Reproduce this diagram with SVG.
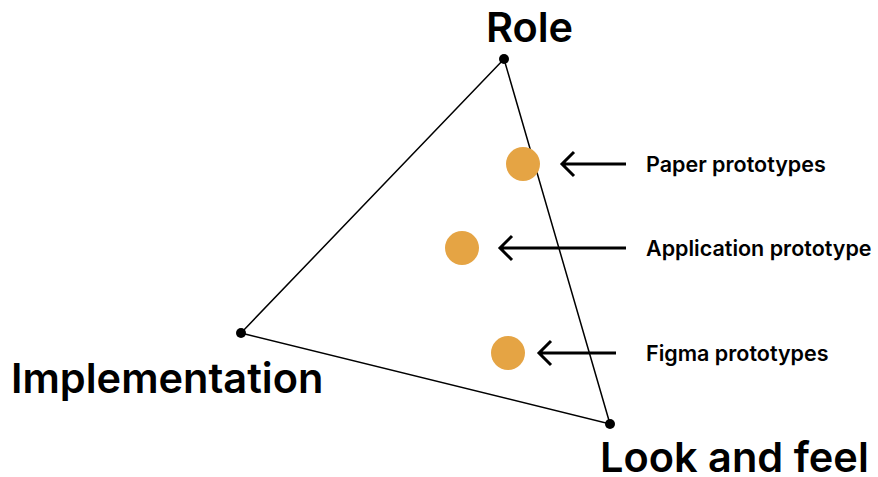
<svg xmlns="http://www.w3.org/2000/svg" width="878" height="477" viewBox="0 0 878 477">
<style>
.big{font-family:Inter,"Liberation Sans",sans-serif;font-weight:600;font-size:41.5px;fill:#000}
.lbl{font-family:Inter,"Liberation Sans",sans-serif;font-weight:600;font-size:21.5px;fill:#000}
.edge{stroke:#000;stroke-width:1.5;fill:none}
.arr{stroke:#000;stroke-width:3;fill:none}
.dot{fill:#e5a444}
.v{fill:#000}
</style>
<rect width="878" height="477" fill="#fff"/>
<g id="connectors">
<path class="edge" d="M504 59 L241 333 L610 424 Z"/>
<path class="arr" d="M626 164 H562 M574 152 L562 164 L574 176"/>
<path class="arr" d="M626 248 H500 M512 236 L500 248 L512 260"/>
<path class="arr" d="M616 353 H539 M551 341 L539 353 L551 365"/>
</g>
<g id="role"><circle class="v" cx="504" cy="59" r="5"/><text class="big" x="529.5" y="42" text-anchor="middle">Role</text></g>
<g id="implementation"><circle class="v" cx="241" cy="333" r="5"/><text class="big" x="11" y="393">Implementation</text></g>
<g id="lookandfeel"><circle class="v" cx="610" cy="424" r="5"/><text class="big" x="600" y="472">Look and feel</text></g>
<g id="paper"><circle class="dot" cx="523" cy="164" r="17"/><text class="lbl" x="646" y="172">Paper prototypes</text></g>
<g id="application"><circle class="dot" cx="462" cy="248" r="17"/><text class="lbl" x="646" y="255.5">Application prototype</text></g>
<g id="figma"><circle class="dot" cx="508" cy="353" r="17"/><text class="lbl" x="646" y="361">Figma prototypes</text></g>
</svg>
